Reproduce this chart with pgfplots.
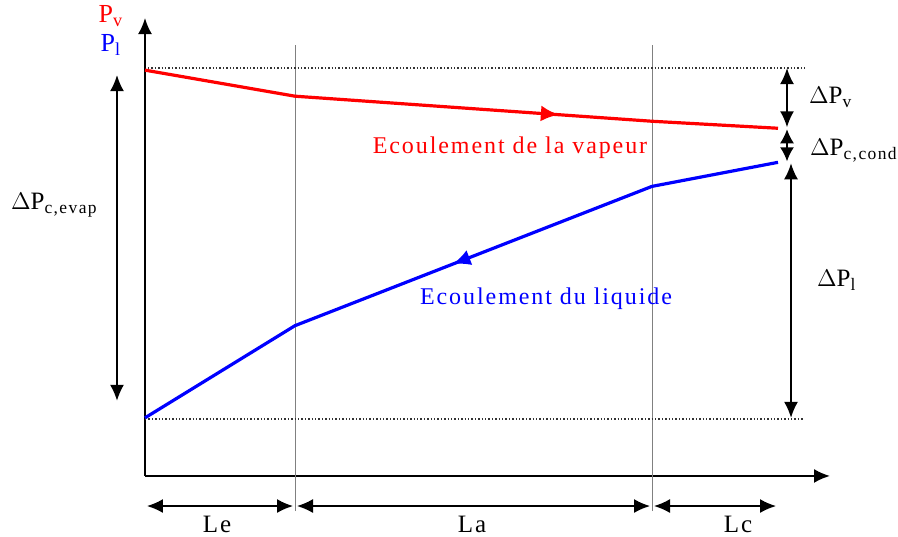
\documentclass[border=0pt]{standalone}
\usepackage{fontspec}
\setmainfont[LetterSpace=8]{Liberation Serif}
\usepackage{pgfplots}
\pgfplotsset{compat=1.18}
\usetikzlibrary{arrows.meta,decorations.markings}
\begin{document}
\begin{tikzpicture}[x=1pt,y=1pt]
\begin{axis}[
  scale only axis,
  width=342.5pt, height=228.5pt,
  xmin=145, xmax=830, ymin=60, ymax=517,
  axis lines=left,
  axis line style={line width=1pt, -{Latex[length=8pt,width=7pt]}},
  ticks=none,
  clip=false,
]
\coordinate (bbbl) at (axis cs:0,0);
\coordinate (bbtr) at (axis cs:898,535);
% vertical separators
\draw[gray, line width=0.5pt] (axis cs:295,25) -- (axis cs:295,490);
\draw[gray, line width=0.5pt] (axis cs:652,25) -- (axis cs:652,490);
% dotted reference lines
\draw[black!80, densely dotted, line width=0.7pt] (axis cs:148,467) -- (axis cs:805,467);
\draw[black!80, densely dotted, line width=0.7pt] (axis cs:145,117) -- (axis cs:803,117);
% vapour pressure
\addplot[red, line width=1.6pt, postaction={decorate},
  decoration={markings, mark=at position 0.655 with {\arrow{Latex[length=9pt,width=8pt]}}}]
  coordinates {(145,465) (295,439) (652,414) (778,407)};
% liquid pressure
\addplot[blue, line width=1.6pt, postaction={decorate},
  decoration={markings, mark=at position 0.502 with {\arrowreversed{Latex[length=9pt,width=8pt]}}}]
  coordinates {(145,118) (295,210) (652,349) (778,373)};
% labels of flows
\node[red, font=\fontsize{12}{14}\selectfont] at (axis cs:510,388) {Ecoulement de la vapeur};
\node[blue, font=\fontsize{12}{14}\selectfont] at (axis cs:546,237) {Ecoulement du liquide};
% axis labels top-left
\node[red, font=\fontsize{13}{14}\selectfont] at (axis cs:111,519) {P\textsubscript{v}};
\node[blue, font=\fontsize{13}{14}\selectfont] at (axis cs:111,490) {P\textsubscript{l}};
% left delta arrow
\draw[line width=0.8pt, {Latex[length=8pt,width=7pt]}-{Latex[length=8pt,width=7pt]}] (axis cs:117,460) -- (axis cs:117,135);
\node[anchor=west, font=\fontsize{12.5}{14}\selectfont] at (axis cs:4,330) {$\Delta$P\textsubscript{c,evap}};
% right delta arrows
\draw[line width=0.8pt, {Latex[length=8pt,width=7pt]}-{Latex[length=8pt,width=7pt]}] (axis cs:787,467) -- (axis cs:787,408);
\draw[line width=0.8pt, {Latex[length=7pt,width=7pt]}-{Latex[length=7pt,width=7pt]}] (axis cs:787,406) -- (axis cs:787,374);
\draw[line width=0.8pt, {Latex[length=8pt,width=7pt]}-{Latex[length=8pt,width=7pt]}] (axis cs:791,372) -- (axis cs:791,118);
\node[anchor=west, font=\fontsize{12.5}{14}\selectfont] at (axis cs:802,438) {$\Delta$P\textsubscript{v}};
\node[anchor=west, font=\fontsize{12.5}{14}\selectfont] at (axis cs:803,385) {$\Delta$P\textsubscript{c,cond}};
\node[anchor=west, font=\fontsize{12.5}{14}\selectfont] at (axis cs:810,255) {$\Delta$P\textsubscript{l}};
% bottom length arrows
\draw[line width=0.8pt, {Latex[length=8pt,width=7pt]}-{Latex[length=8pt,width=7pt]}] (axis cs:147,30) -- (axis cs:293,30);
\draw[line width=0.8pt, {Latex[length=8pt,width=7pt]}-{Latex[length=8pt,width=7pt]}] (axis cs:297,30) -- (axis cs:650,30);
\draw[line width=0.8pt, {Latex[length=8pt,width=7pt]}-{Latex[length=8pt,width=7pt]}] (axis cs:654,30) -- (axis cs:776,30);
\node[font=\fontsize{12.5}{14}\selectfont] at (axis cs:217,12) {Le};
\node[font=\fontsize{12.5}{14}\selectfont] at (axis cs:472,12) {La};
\node[font=\fontsize{12.5}{14}\selectfont] at (axis cs:738,12) {Lc};
\end{axis}
\pgfresetboundingbox
\path (bbbl) rectangle (bbtr);
\end{tikzpicture}
\end{document}
